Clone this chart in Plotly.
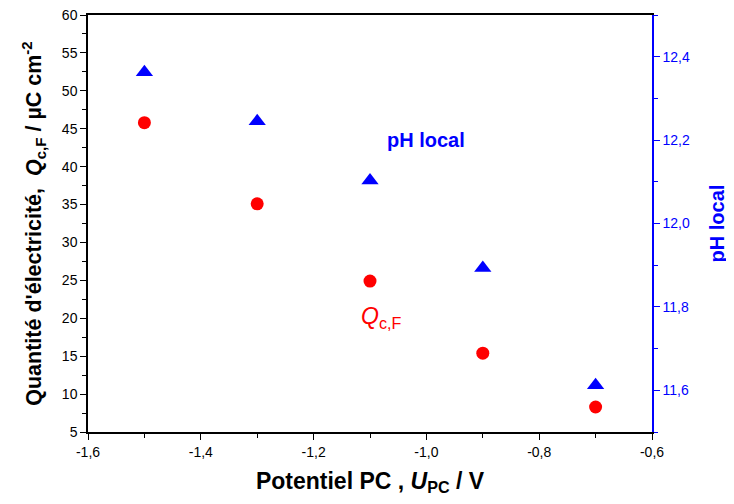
import plotly.graph_objects as go

potentiel = [-1.5, -1.3, -1.1, -0.9, -0.7]
q_cf = [45.8, 35.1, 24.9, 15.4, 8.3]
ph_local = [12.363, 12.245, 12.103, 11.893, 11.612]

x_tickvals = [-1.6, -1.4, -1.2, -1.0, -0.8, -0.6]
x_ticktext = ["-1,6", "-1,4", "-1,2", "-1,0", "-0,8", "-0,6"]
y_tickvals = [5, 10, 15, 20, 25, 30, 35, 40, 45, 50, 55, 60]
y2_tickvals = [11.6, 11.8, 12.0, 12.2, 12.4]
y2_ticktext = ["11,6", "11,8", "12,0", "12,2", "12,4"]

FONT = "Arial, 'Liberation Sans', sans-serif"

fig = go.Figure()
fig.add_trace(go.Scatter(x=potentiel, y=q_cf, mode="markers",
                         marker=dict(symbol="circle", size=13, color="#ff0000"),
                         showlegend=False, yaxis="y"))
fig.add_trace(go.Scatter(x=potentiel, y=ph_local, mode="markers",
                         marker=dict(symbol="triangle-up", size=15, color="#0000ff"),
                         showlegend=False, yaxis="y2"))

fig.update_layout(
    width=726, height=496,
    margin=dict(l=80, r=82, t=7, b=72, autoexpand=False),
    plot_bgcolor="white", paper_bgcolor="white",
    font=dict(family=FONT, size=14, color="black"),
    xaxis=dict(range=[-1.6, -0.6], tickvals=x_tickvals, ticktext=x_ticktext,
               showline=True, linecolor="black", linewidth=1.5, mirror=True,
               ticks="outside", ticklen=6, tickcolor="black", tickwidth=1.2,
               minor=dict(dtick=0.1, ticks="outside", ticklen=4, tickcolor="black"),
               showgrid=False, zeroline=False, tickfont=dict(size=14),
               ticklabeloverflow="allow",
               title=dict(text="<b>Potentiel PC , <i>U</i><sub>PC</sub> / V</b>",
                          font=dict(size=23, family=FONT), standoff=14)),
    yaxis=dict(range=[5, 60], tickvals=y_tickvals,
               showline=True, linecolor="black", linewidth=1.5,
               ticks="outside", ticklen=6, tickcolor="black", tickwidth=1.2,
               minor=dict(dtick=2.5, ticks="outside", ticklen=4, tickcolor="black"),
               showgrid=False, zeroline=False, tickfont=dict(size=14),
               ticklabeloverflow="allow",
               title=dict(text="<b>Quantité d'électricité,  <i>Q</i><sub>c,F</sub> / µC cm<sup>-2</sup></b>",
                          font=dict(size=21.5, family=FONT), standoff=14)),
    yaxis2=dict(range=[11.5, 12.5], overlaying="y", side="right",
                tickvals=y2_tickvals, ticktext=y2_ticktext,
                showline=True, linecolor="#0000ff", linewidth=1.5,
                ticks="outside", ticklen=6, tickcolor="#0000ff", tickwidth=1.2,
                minor=dict(dtick=0.1, ticks="outside", ticklen=4, tickcolor="#0000ff"),
                tickfont=dict(color="#0000ff", size=14),
                ticklabeloverflow="allow",
                showgrid=False, zeroline=False,
                title=dict(text="<b>pH local</b>", font=dict(size=20, color="#0000ff", family=FONT),
                           standoff=21)),
    annotations=[
        dict(x=-1.0, y=12.2, xref="x", yref="y2", text="<b>pH local</b>", showarrow=False,
             font=dict(size=20, color="#0000ff", family=FONT)),
        dict(x=-1.08, y=20.1, xref="x", yref="y",
             text="<i>Q</i><sub>c,F</sub>", showarrow=False,
             font=dict(size=23, color="#ff0000", family=FONT)),
    ],
)

fig.write_html("out.html")
